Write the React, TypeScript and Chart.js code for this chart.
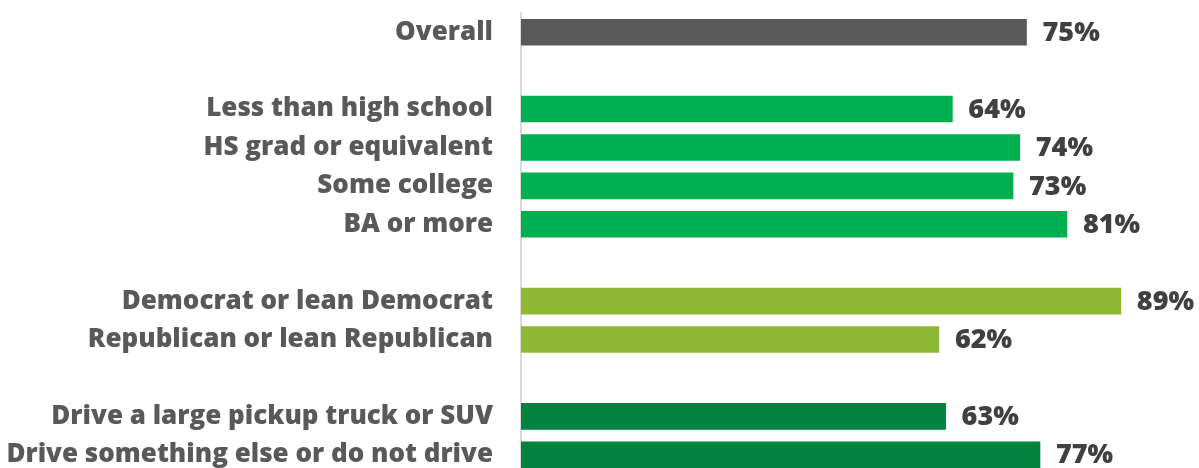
import React, { useEffect, useRef } from "react";
import { Chart, registerables } from "chart.js";

Chart.register(...registerables);

const categories: string[] = [
  "Overall",
  "",
  "Less than high school",
  "HS grad or equivalent",
  "Some college",
  "BA or more",
  "",
  "Democrat or lean Democrat",
  "Republican or lean Republican",
  "",
  "Drive a large pickup truck or SUV",
  "Drive something else or do not drive",
];

const values: (number | null)[] = [75, null, 64, 74, 73, 81, null, 89, 62, null, 63, 77];

const groups: string[] = [
  "overall", "", "edu", "edu", "edu", "edu", "", "party", "party", "", "drive", "drive",
];

const groupColors: Record<string, string> = {
  overall: "#595959",
  edu: "#00AF50",
  party: "#8CB833",
  drive: "#00843D",
  "": "#ffffff",
};

const FONT = "'Open Sans', Lato, sans-serif";

const valueLabels = {
  id: "valueLabels",
  afterDatasetsDraw(chart: any) {
    const ctx = chart.ctx;
    const meta = chart.getDatasetMeta(0);
    ctx.save();
    ctx.font = `800 27px ${FONT}`;
    ctx.fillStyle = "#404040";
    ctx.textAlign = "left";
    ctx.textBaseline = "middle";
    meta.data.forEach((bar: any, i: number) => {
      const v = values[i];
      if (v === null) return;
      ctx.fillText(`${v}%`, bar.x + 16, bar.y + 1);
    });
    ctx.restore();
  },
};

export default function App() {
  const ref = useRef<HTMLCanvasElement | null>(null);
  useEffect(() => {
    if (!ref.current) return;
    const chart = new Chart(ref.current, {
      type: "bar",
      data: {
        labels: categories,
        datasets: [
          {
            data: values,
            backgroundColor: groups.map((g) => groupColors[g]),
            barThickness: 26,
            borderWidth: 0,
          },
        ],
      },
      options: {
        indexAxis: "y",
        animation: false,
        responsive: true,
        maintainAspectRatio: false,
        layout: { padding: { top: 13, bottom: 0, left: 0, right: 4 } },
        plugins: { legend: { display: false }, tooltip: { enabled: false } },
        scales: {
          x: {
            min: 0,
            max: 100,
            display: false,
          },
          y: {
            grid: {
              display: true,
              drawOnChartArea: false,
              drawTicks: true,
              tickLength: 28,
              color: "rgba(0,0,0,0)",
            },
            border: { display: true, color: "#d9d9d9", width: 2 },
            afterFit: (scale: any) => {
              scale.width = 521;
            },
            ticks: {
              padding: 0,
              color: "#595959",
              font: { family: FONT, size: 26, weight: "800", lineHeight: 1 },
              autoSkip: false,
            },
          },
        },
      },
      plugins: [valueLabels],
    });
    return () => chart.destroy();
  }, []);
  return (
    <div style={{ position: "absolute", left: 0, top: 0, width: 1199, height: 487 }}>
      <canvas ref={ref} />
    </div>
  );
}
